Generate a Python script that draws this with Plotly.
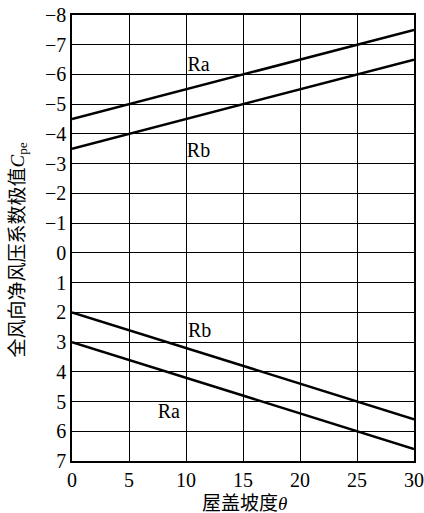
import plotly.graph_objects as go

# Data
theta = [0, 30]
ra_suction = [-4.5, -7.5]
rb_suction = [-3.5, -6.5]
rb_pressure = [2.0, 5.6]
ra_pressure = [3.0, 6.6]

x_ticks = [0, 5, 10, 15, 20, 25, 30]
y_ticks = list(range(-8, 8))

labels_text = ["Ra", "Rb", "Rb", "Ra"]
labels_x = [11.1, 11.1, 11.2, 8.5]
labels_y = [-6.3, -3.4, 2.65, 5.4]

x_title = "屋盖坡度<i>θ</i>"
y_title = "全风向净风压系数极值<i>C</i><sub>pe</sub>"

FONT = "Liberation Serif, Noto Sans CJK SC, serif"

fig = go.Figure()
for ys in [ra_suction, rb_suction, rb_pressure, ra_pressure]:
    fig.add_trace(go.Scatter(x=theta, y=ys, mode="lines",
                             line=dict(color="black", width=2.5),
                             showlegend=False, hoverinfo="skip"))

fig.add_trace(go.Scatter(x=labels_x, y=labels_y, mode="text", text=labels_text,
                         textfont=dict(family=FONT, size=20, color="black"),
                         showlegend=False, hoverinfo="skip"))

fig.update_layout(
    width=424, height=513,
    margin=dict(l=72, r=10, t=15, b=52),
    paper_bgcolor="white", plot_bgcolor="white",
    font=dict(family=FONT, color="black", size=20),
    annotations=[
        dict(text=x_title, xref="paper", yref="paper", x=0.504, y=0,
             yshift=-42, xanchor="center", yanchor="middle", showarrow=False,
             font=dict(family=FONT, size=19, color="black")),
        dict(text=y_title, xref="paper", yref="paper", x=0, y=0.472,
             xshift=-53, xanchor="center", yanchor="middle", showarrow=False,
             textangle=-90, font=dict(family=FONT, size=19, color="black")),
    ],
)
fig.update_xaxes(
    range=[0, 30], tickvals=x_ticks, showgrid=True, gridcolor="black", gridwidth=1.3,
    showline=True, linecolor="black", linewidth=1.5, mirror=True, zeroline=False,
    ticks="", ticklen=0, tickfont=dict(size=20, family=FONT), automargin=False,
    ticklabeloverflow="allow",
)
fig.update_yaxes(
    range=[7, -8], tickvals=y_ticks, showgrid=True, gridcolor="black", gridwidth=1.3,
    showline=True, linecolor="black", linewidth=1.5, mirror=True, zeroline=False,
    ticks="", ticklen=0, tickfont=dict(size=20, family=FONT), automargin=False,
    ticklabeloverflow="allow",
)

fig.write_html(
    "out.html",
    config={"displayModeBar": False},
    post_script="document.body.style.margin='0';document.body.style.overflow='hidden';",
)
